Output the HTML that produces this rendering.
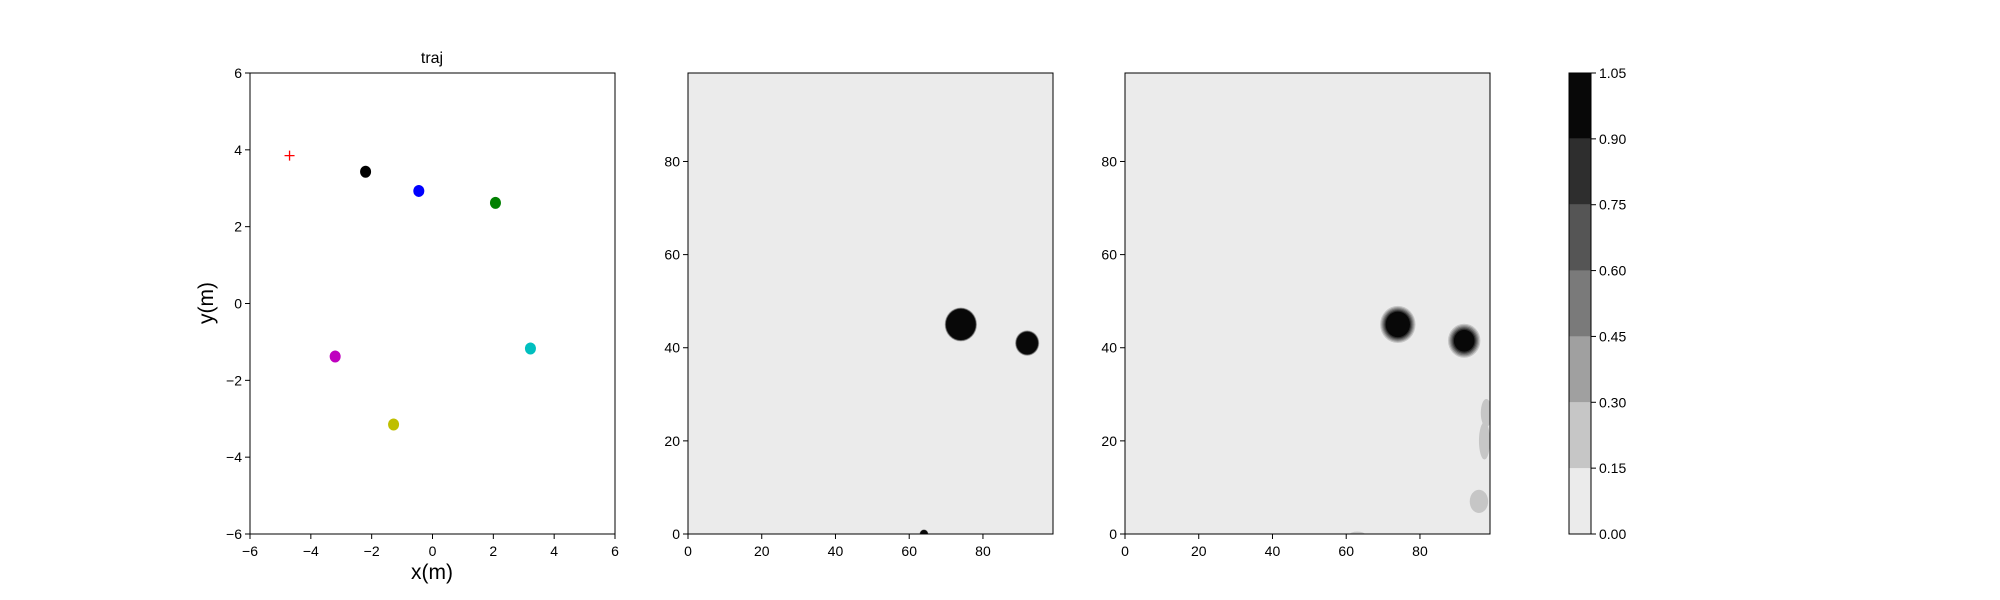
<!DOCTYPE html>
<html><head><meta charset="utf-8"><style>
body{margin:0;background:#fff}
svg{display:block;font-family:"Liberation Sans","DejaVu Sans",sans-serif}
</style></head><body>
<svg id="fig" width="2000" height="600"></svg>
<script>
// ---- data ----
const trajX = [-2.2, -0.45, 2.07, -3.2, -1.28, 3.22];
const trajY = [3.43, 2.93, 2.62, -1.38, -3.15, -1.17];
const trajColors = ['#000000','#0000ff','#008000','#bf00bf','#bfbf00','#00bfbf'];
const goalX = [-4.7];
const goalY = [3.85];
const trajTicks = [-6,-4,-2,0,2,4,6];
const gridTicks = [0,20,40,60,80];
const levels = [0,0.15,0.30,0.45,0.60,0.75,0.90,1.05];
const levelLabels = ['0.00','0.15','0.30','0.45','0.60','0.75','0.90','1.05'];
const levelColors = ['#ebebeb','#c6c6c6','#a0a0a0','#7a7a7a','#555555','#2e2e2e','#080808'];
// blobs: centre x, centre y, core radius, halo width
const blobX1 = [74, 92, 64];
const blobY1 = [45, 41, 0];
const blobR1 = [4.0, 2.9, 1.0];
const blobH1 = [0.4, 0.4, 0.2];
const blobX2 = [74, 92];
const blobY2 = [45, 41.5];
const blobR2 = [3.3, 2.8];
const blobH2 = [1.5, 1.6];
const patchX2 = [98, 97.5, 96, 63];
const patchY2 = [26, 20, 7, 0];
const patchRX2 = [1.5, 1.5, 2.5, 2];
const patchRY2 = [3, 4, 2.5, 0.5];

const NS='http://www.w3.org/2000/svg';
const svg=document.getElementById('fig');
function mk(tag,attrs,parent){const e=document.createElementNS(NS,tag);for(const k in attrs)e.setAttribute(k,attrs[k]);(parent||svg).appendChild(e);return e;}
function txt(s,attrs,parent){const e=mk('text',attrs,parent);e.textContent=s;return e;}

const T=73,B=534;
function axis(L,R,xmin,xmax,ymin,ymax){
  return {L,R,x:v=>L+(v-xmin)/(xmax-xmin)*(R-L),y:v=>B-(v-ymin)/(ymax-ymin)*(B-T)};
}
function ticks(ax,xt,yt,g,fmt){
  xt.forEach(v=>{const X=ax.x(v);
    const t=mk('line',{x1:X,x2:X,y1:B,y2:B+5,stroke:'#000','stroke-width':1},g);
    
    const l=txt(fmt(v),{x:X,y:B+22,'font-size':14,'text-anchor':'middle'},g);
    });
  yt.forEach(v=>{const Y=ax.y(v);
    const t=mk('line',{x1:ax.L-5,x2:ax.L,y1:Y,y2:Y,stroke:'#000','stroke-width':1},g);
    
    const l=txt(fmt(v),{x:ax.L-8,y:Y+5,'font-size':14,'text-anchor':'end'},g);
    });
}
const fmtM=v=>v<0?'\u2212'+(-v):''+v;

// ---- panel 1: trajectory ----
const g1=mk('g',{});
const a1=axis(250,615,-6,6,-6,6);
trajX.forEach((x,i)=>{const c=mk('ellipse',{cx:a1.x(x),cy:a1.y(trajY[i]),rx:5.5,ry:6,fill:trajColors[i]},g1);
  });
goalX.forEach((x,i)=>{const X=a1.x(x),Y=a1.y(goalY[i]);
  const p=mk('path',{d:`M${X-5} ${Y}H${X+5}M${X} ${Y-5}V${Y+5}`,stroke:'#ff0000','stroke-width':1.3,fill:'none'},g1);
  });
const f1=mk('rect',{x:250,y:T,width:365,height:B-T,fill:'none',stroke:'#000','stroke-width':1},g1);

ticks(a1,trajTicks,trajTicks,g1,fmtM);
const tt=txt('traj',{x:432,y:63,'font-size':16,'text-anchor':'middle'},g1);
const xl=txt('x(m)',{x:432,y:579,'font-size':21,'text-anchor':'middle'},g1);
const yl=txt('y(m)',{x:0,y:0,'font-size':21,'text-anchor':'middle',transform:'translate(213,303) rotate(-90)'},g1);

// ---- heatmap panels ----
function lvlColor(v){for(let i=levelColors.length-1;i>=0;i--){if(v>=levels[i])return levelColors[i];}return levelColors[0];}
function panel(L,name,bx,by,br,bh,px,py,prx,pry){
  const g=mk('g',{});
  const a=axis(L,L+365,0,99,0,99);
  const cid='clip-'+name;
  const cp=mk('clipPath',{id:cid},g);mk('rect',{x:L,y:T,width:365,height:B-T},cp);
  const inner=mk('g',{'clip-path':`url(#${cid})`},g);
  const bg=mk('rect',{x:L,y:T,width:365,height:B-T,fill:levelColors[0]},inner);
  
  const sx=(a.x(1)-a.x(0)),sy=(a.y(0)-a.y(1));
  px.forEach((x,i)=>{const e=mk('ellipse',{cx:a.x(x),cy:a.y(py[i]),rx:prx[i]*sx,ry:pry[i]*sy,fill:lvlColor(0.2)},inner);
    });
  bx.forEach((x,i)=>{
    const steps=[0.2,0.35,0.5,0.65,0.8,0.95];
    steps.forEach((v,k)=>{const r=br[i]+bh[i]*(1-k/(steps.length-1));
      const c=mk('ellipse',{cx:a.x(x),cy:a.y(by[i]),rx:r*sx,ry:r*sx*1.05,fill:lvlColor(v)},inner);
      });
  });
  const f=mk('rect',{x:L,y:T,width:365,height:B-T,fill:'none',stroke:'#000','stroke-width':1},g);
  
  ticks(a,gridTicks,gridTicks,g,v=>''+v);
}
panel(688,'occupancy-panel',blobX1,blobY1,blobR1,blobH1,[],[],[],[]);
panel(1125,'prediction-panel',blobX2,blobY2,blobR2,blobH2,patchX2,patchY2,patchRX2,patchRY2);

// ---- colorbar ----
const gc=mk('g',{});
const cy=v=>B-(v-levels[0])/(levels[levels.length-1]-levels[0])*(B-T);
levelColors.forEach((c,i)=>{const r=mk('rect',{x:1569,y:cy(levels[i+1]),width:22,height:cy(levels[i])-cy(levels[i+1]),fill:c},gc);
  });
mk('rect',{x:1569,y:T,width:22,height:B-T,fill:'none',stroke:'#000','stroke-width':1},gc);
levels.forEach((v,i)=>{const Y=cy(v);
  const t=mk('line',{x1:1591,x2:1596,y1:Y,y2:Y,stroke:'#000'},gc);
  const l=txt(levelLabels[i],{x:1599,y:Y+5,'font-size':14},gc);});
</script>
</body></html>
